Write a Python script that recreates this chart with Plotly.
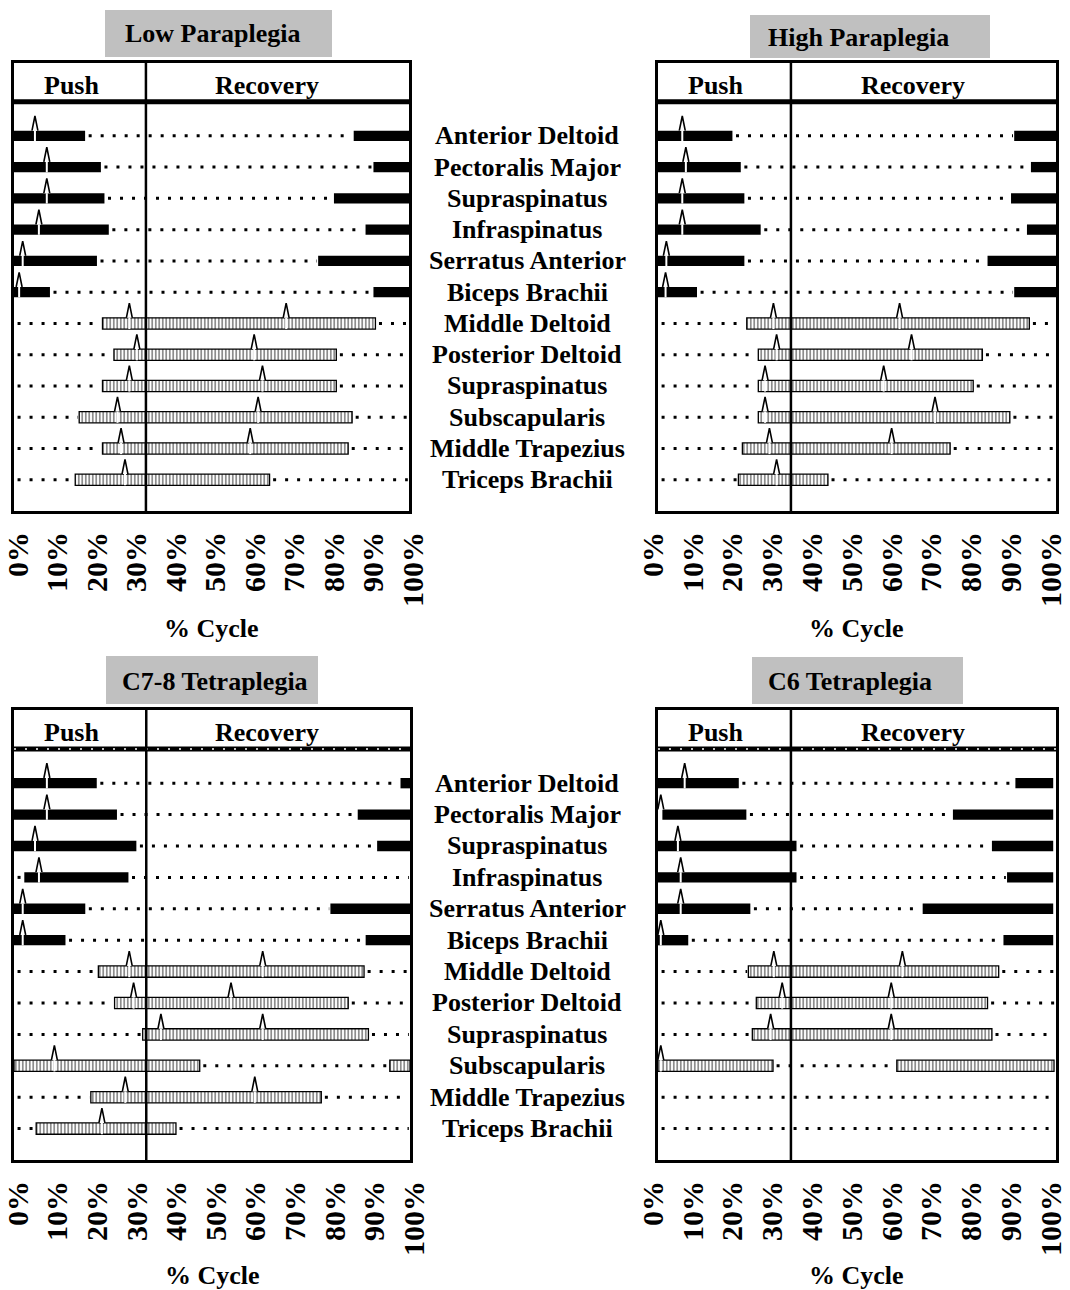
import plotly.graph_objects as go

# ---------------- data ----------------
MUSCLES = ["Anterior Deltoid", "Pectoralis Major", "Supraspinatus", "Infraspinatus",
           "Serratus Anterior", "Biceps Brachii", "Middle Deltoid", "Posterior Deltoid",
           "Supraspinatus", "Subscapularis", "Middle Trapezius", "Triceps Brachii"]
PUSH_GROUP = 6          # first 6 muscles: push-phase (solid), rest: recovery-phase (hatched)
PUSH_END = 33.4         # % cycle where push ends
TICKS = list(range(0, 101, 10))
TICK_LABELS = [f"{t}%" for t in TICKS]

GROUPS = ["Low Paraplegia", "High Paraplegia", "C7-8 Tetraplegia", "C6 Tetraplegia"]

LOW_PARA_ON = [[(0, 18), (86, 100)], [(0, 22), (91, 100)], [(0, 22.9), (81, 100)],
               [(0, 24), (89, 100)], [(0, 21), (77, 100)], [(0, 9.1), (91, 100)],
               [(22.4, 91.5)], [(25.3, 81.6)], [(22.4, 81.6)], [(16.5, 85.6)],
               [(22.4, 84.6)], [(15.5, 64.7)]]
LOW_PARA_PEAKS = [[5.3], [8.3], [8.3], [6.3], [2.2], [1.3], [29.2, 68.9], [31.1, 60.8],
                  [29.2, 62.9], [26.2, 61.8], [27.1, 59.8], [28.1]]

HIGH_PARA_ON = [[(0, 18.7), (89.5, 100)], [(0, 20.8), (93.7, 100)], [(0, 21.7), (88.7, 100)],
                [(0, 25.8), (92.7, 100)], [(0, 21.7), (82.8, 100)], [(0, 9.8), (89.5, 100)],
                [(22.3, 93.3)], [(25.2, 81.5)], [(25.2, 79.2)], [(25.2, 88.4)],
                [(21.2, 73.4)], [(20.2, 42.7)]]
HIGH_PARA_PEAKS = [[6.1], [7.0], [6.1], [6.1], [2.1], [1.9], [29.0, 60.7], [29.8, 63.7],
                   [26.9, 56.7], [26.9, 69.6], [28.0, 58.7], [29.8]]

C78_TETRA_ON = [[(0, 20.9), (97.6, 100)], [(0, 26), (86.8, 100)], [(0, 30.9), (91.7, 100)],
                [(2.6, 28.9)], [(0, 18), (79.9, 100)], [(0, 13), (88.8, 100)],
                [(21.3, 88.4)], [(25.4, 84.4)], [(32.5, 89.5)], [(0, 46.9), (94.9, 100)],
                [(19.4, 77.6)], [(5.6, 40.9)]]
C78_TETRA_PEAKS = [[8.3], [8.3], [5.3], [6.3], [2.2], [2.2], [29.1, 62.8], [30.2, 54.8],
                   [37.1, 62.8], [10.2], [28.1, 60.8], [22.2]]

C6_TETRA_ON = [[(0, 20.3), (89.8, 99.3)], [(1.1, 22.2), (74.1, 99.3)], [(0, 34.8), (83.9, 99.3)],
               [(0, 34.8), (87.7, 99.3)], [(0, 23.2), (66.5, 99.3)], [(0, 7.6), (86.8, 99.3)],
               [(22.7, 85.6)], [(24.7, 82.8)], [(23.7, 83.9)], [(0, 28.9), (60, 99.5)],
               [], []]
C6_TETRA_PEAKS = [[6.7], [0.7], [5.0], [5.7], [5.7], [0.7], [29.1, 61.4], [31.2, 58.6],
                  [28.3, 58.6], [0.7], [], []]

GROUP_ON = [LOW_PARA_ON, HIGH_PARA_ON, C78_TETRA_ON, C6_TETRA_ON]
GROUP_PEAKS = [LOW_PARA_PEAKS, HIGH_PARA_PEAKS, C78_TETRA_PEAKS, C6_TETRA_PEAKS]

# ---------------- layout geometry (pixels in the page) ----------------
W, H = 1070, 1290
PANEL_X = [(14, 409), (658, 1056), (14, 410), (658, 1056)]
PANEL_Y = [(63, 511), (63, 511), (710, 1160), (710, 1160)]
TITLE_BOX = [(105, 332, 10, 57), (750, 990, 15, 58), (106, 318, 656, 704), (752, 963, 657, 704)]
TITLE_XY = [(213, 34), (858, 37), (215, 681), (850, 681)]
CYCLE_Y = [628, 628, 1275, 1275]
TICK_SHIFT = [4, -5, 4, -5]
LABEL_X = 527
Y_RANGE = [12.0, -2.33]
HEADER_Y = -1.09
FONT = "Liberation Serif, Times New Roman, serif"
TXT = 26


def px_x(v):
    return v / W


def px_y(v):
    return 1 - v / H


def gaps(intervals):
    """complement of the on-intervals within 0-100"""
    out, cur = [], 0.0
    for s, e in sorted(intervals):
        if s > cur:
            out.append((cur, s))
        cur = max(cur, e)
    if cur < 100:
        out.append((cur, 100))
    return out


fig = go.Figure()
shapes = []
annotations = []

for i in range(4):
    n = i + 1
    xa = "x" if n == 1 else f"x{n}"
    ya = "y" if n == 1 else f"y{n}"
    on = GROUP_ON[i]
    peaks = GROUP_PEAKS[i]
    rows = list(range(len(MUSCLES)))

    # dotted baseline where a muscle is inactive
    dx, dy = [], []
    for r in rows:
        for s, e in gaps(on[r]):
            s2, e2 = s + 0.9, e - 0.3
            if e2 - s2 < 1.0:
                continue
            dx += [s2, e2, None]
            dy += [r, r, None]
    fig.add_trace(go.Scatter(x=dx, y=dy, mode="lines", xaxis=xa, yaxis=ya,
                             line=dict(color="black", width=3, dash="3px,9px"),
                             hoverinfo="skip"))

    # bars
    for solid in (True, False):
        ys, bases, lens = [], [], []
        for r in rows:
            if (r < PUSH_GROUP) != solid:
                continue
            for (s, e) in on[r]:
                ys.append(r)
                bases.append(s)
                lens.append(e - s)
        if not ys:
            continue
        if solid:
            marker = dict(color="black", line=dict(width=0))
            width = 0.33
        else:
            marker = dict(color="white", line=dict(color="black", width=1.3),
                          pattern=dict(shape="|", size=3.5, solidity=0.45,
                                       fgcolor="black", bgcolor="white"))
            width = 0.36
        fig.add_trace(go.Bar(y=ys, x=lens, base=bases, orientation="h", width=width,
                             marker=marker, xaxis=xa, yaxis=ya, hoverinfo="skip"))

    # peak markers
    tx, ty, wx, wy = [], [], [], []
    for r in rows:
        half = 0.165 if r < PUSH_GROUP else 0.18
        for p in peaks[r]:
            tx += [p - 0.75, p, p + 0.75, None]
            ty += [r - half, r - half - 0.47, r - half, None]
            wx += [p, p, None]
            wy += [r - half, r + half, None]
    if tx:
        fig.add_trace(go.Scatter(x=wx, y=wy, mode="lines", xaxis=xa, yaxis=ya,
                                 line=dict(color="white", width=2), hoverinfo="skip"))
        fig.add_trace(go.Scatter(x=tx, y=ty, mode="lines", xaxis=xa, yaxis=ya,
                                 fill="toself", fillcolor="white",
                                 line=dict(color="black", width=1.6), hoverinfo="skip"))

    x0, x1 = PANEL_X[i]
    y0, y1 = PANEL_Y[i]
    fig.layout[("xaxis" if n == 1 else f"xaxis{n}")] = dict(
        domain=[px_x(x0), px_x(x1)], range=[0, 100], anchor=ya, automargin=False,
        showgrid=False, zeroline=False, showline=True, mirror=True,
        linecolor="black", linewidth=3, ticks="",
        tickvals=TICKS, ticktext=TICK_LABELS, tickangle=-90,
        ticklabelstandoff=6, ticklabelshift=TICK_SHIFT[i], ticklabeloverflow="allow",
        tickfont=dict(family=FONT, size=30, color="black", weight="bold"),
        fixedrange=True)
    fig.layout[("yaxis" if n == 1 else f"yaxis{n}")] = dict(
        domain=[px_y(y1), px_y(y0)], range=Y_RANGE, anchor=xa, automargin=False,
        showgrid=False, zeroline=False, showline=True, mirror=True,
        linecolor="black", linewidth=3, showticklabels=False, ticks="",
        fixedrange=True)

    # header line & push/recovery divider
    shapes.append(dict(type="line", xref=xa, yref=ya, x0=0, x1=100, y0=HEADER_Y, y1=HEADER_Y,
                       line=dict(color="black", width=5)))
    if i >= 2:
        shapes.append(dict(type="line", xref=xa, yref=ya, x0=0, x1=100, y0=HEADER_Y, y1=HEADER_Y,
                           line=dict(color="white", width=1.5, dash="2px,9px")))
    shapes.append(dict(type="line", xref=xa, yref=ya, x0=PUSH_END, x1=PUSH_END,
                       y0=Y_RANGE[1], y1=Y_RANGE[0], line=dict(color="black", width=2.5)))
    annotations.append(dict(xref=xa, yref=ya, x=14.5, y=-1.62, text="Push", showarrow=False,
                            font=dict(family=FONT, size=TXT, color="black", weight="bold")))
    annotations.append(dict(xref=xa, yref=ya, x=64, y=-1.62, text="Recovery", showarrow=False,
                            font=dict(family=FONT, size=TXT, color="black", weight="bold")))

    # title box
    bx0, bx1, by0, by1 = TITLE_BOX[i]
    shapes.append(dict(type="rect", xref="paper", yref="paper",
                       x0=px_x(bx0), x1=px_x(bx1), y0=px_y(by1), y1=px_y(by0),
                       fillcolor="#c0c0c0", line=dict(width=0), layer="below"))
    tx_, ty_ = TITLE_XY[i]
    annotations.append(dict(xref="paper", yref="paper", x=px_x(tx_), y=px_y(ty_),
                            text=GROUPS[i], showarrow=False, xanchor="center", yanchor="middle",
                            font=dict(family=FONT, size=TXT, color="black", weight="bold")))
    # axis title
    annotations.append(dict(xref="paper", yref="paper", x=px_x((x0 + x1) / 2), y=px_y(CYCLE_Y[i]),
                            text="% Cycle", showarrow=False, xanchor="center", yanchor="middle",
                            font=dict(family=FONT, size=TXT, color="black", weight="bold")))

# muscle labels between panels (top and bottom)
for ya in ("y", "y3"):
    for r, m in enumerate(MUSCLES):
        annotations.append(dict(xref="paper", yref=ya, x=px_x(LABEL_X), y=r, text=m,
                                showarrow=False, xanchor="center", yanchor="middle",
                                font=dict(family=FONT, size=TXT, color="black", weight="bold")))

fig.update_layout(width=W, height=H, margin=dict(l=0, r=0, t=0, b=0, autoexpand=False),
                  paper_bgcolor="white", plot_bgcolor="white", showlegend=False,
                  barmode="overlay", shapes=shapes, annotations=annotations)

fig.write_html("out.html", config={"displayModeBar": False},
               post_script="document.body.style.margin='0px';document.body.style.overflow='hidden';")
